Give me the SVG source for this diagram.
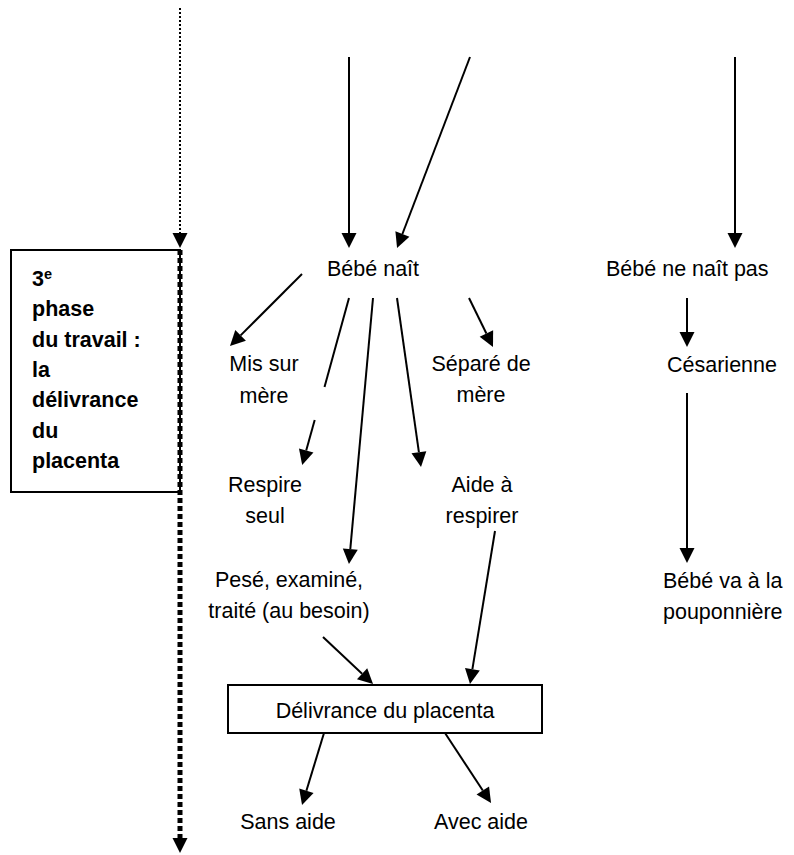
<svg xmlns="http://www.w3.org/2000/svg" width="794" height="855" viewBox="0 0 794 855">
<style>
text{font-family:"Liberation Sans",Arial,sans-serif;font-size:21.5px;fill:#000}
.c{text-anchor:middle}
.b{font-weight:bold}
.ln{stroke:#000;stroke-width:2;fill:none}
.arr{marker-end:url(#ah)}
</style>
<defs>
<marker id="ah" markerUnits="userSpaceOnUse" markerWidth="16" markerHeight="16" refX="0" refY="0" orient="auto" overflow="visible">
<path d="M0,-7.5 L15,0 L0,7.5 Z" fill="#000"/>
</marker>
</defs>
<rect width="794" height="855" fill="#fff"/>
<g id="phase-box">
<rect x="11" y="250" width="169" height="242" fill="#fff" stroke="#000" stroke-width="2"/>
<text class="b" x="32" y="286">3<tspan font-size="14.5" dy="-7">e</tspan></text>
<text class="b" x="32" y="316">phase</text>
<text class="b" x="32" y="347">du travail :</text>
<text class="b" x="32" y="377">la</text>
<text class="b" x="32" y="407">délivrance</text>
<text class="b" x="32" y="438">du</text>
<text class="b" x="32" y="468">placenta</text>
</g>
<g id="connectors">
<line class="ln arr" x1="180" y1="8" x2="180" y2="233" stroke-dasharray="2 2"/>
<line class="arr" x1="180" y1="250" x2="180" y2="838" stroke="#000" stroke-width="5" stroke-dasharray="5 3"/>
<line class="ln arr" x1="349" y1="57" x2="349" y2="233"/>
<line class="ln arr" x1="470" y1="57" x2="402.4" y2="234"/>
<line class="ln arr" x1="735" y1="57" x2="735" y2="233"/>
<line class="ln arr" x1="302" y1="274" x2="240.6" y2="335.4"/>
<line class="ln" x1="349" y1="298" x2="324.5" y2="387"/>
<line class="ln arr" x1="314.7" y1="420" x2="306.2" y2="450.6"/>
<line class="ln arr" x1="373" y1="298" x2="350.3" y2="549.1"/>
<line class="ln arr" x1="397" y1="298" x2="418.9" y2="452.2"/>
<line class="ln arr" x1="469" y1="298" x2="486.4" y2="333.5"/>
<line class="ln arr" x1="687" y1="298" x2="687" y2="332"/>
<line class="ln arr" x1="687" y1="393" x2="687" y2="548"/>
<line class="ln arr" x1="323" y1="637" x2="362.1" y2="673.7"/>
<line class="ln arr" x1="495" y1="531" x2="472.4" y2="669.2"/>
<line class="ln arr" x1="324" y1="733" x2="306.4" y2="790.7"/>
<line class="ln arr" x1="445" y1="733" x2="482.8" y2="790.5"/>
</g>
<g id="bebe-nait"><text x="327" y="276">Bébé naît</text></g>
<g id="bebe-ne-nait-pas"><text x="606" y="276">Bébé ne naît pas</text></g>
<g id="mis-sur-mere"><text class="c" x="264" y="371">Mis sur</text><text class="c" x="264" y="403">mère</text></g>
<g id="separe-de-mere"><text class="c" x="481" y="371">Séparé de</text><text class="c" x="481" y="402">mère</text></g>
<g id="cesarienne"><text x="667" y="372">Césarienne</text></g>
<g id="respire-seul"><text class="c" x="265" y="492">Respire</text><text class="c" x="265" y="523">seul</text></g>
<g id="aide-a-respirer"><text class="c" x="482" y="492">Aide à</text><text class="c" x="482" y="523">respirer</text></g>
<g id="pese"><text class="c" x="289" y="587">Pesé, examiné,</text><text class="c" x="289" y="618">traité (au besoin)</text></g>
<g id="pouponniere"><text x="663" y="588">Bébé va à la</text><text x="663" y="619">pouponnière</text></g>
<g id="delivrance">
<rect x="228" y="685" width="314" height="48" fill="#fff" stroke="#000" stroke-width="2"/>
<text class="c" x="385" y="718">Délivrance du placenta</text>
</g>
<g id="sans-aide"><text class="c" x="288" y="829">Sans aide</text></g>
<g id="avec-aide"><text class="c" x="481" y="829">Avec aide</text></g>
</svg>
